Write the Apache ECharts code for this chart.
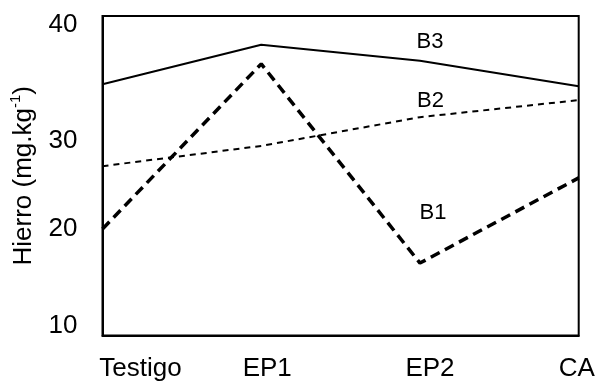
<!DOCTYPE html>
<html>
<head>
<meta charset="utf-8">
<script src="https://cdn.jsdelivr.net/npm/echarts@6/dist/echarts.min.js"></script>
<style>
  html, body { margin: 0; padding: 0; background: #fff; }
  #chart { width: 603px; height: 383px; }
</style>
</head>
<body>
<div id="chart"></div>
<script>
// Treatments on the x axis
const categories = ['Testigo', 'EP1', 'EP2', 'CA'];
// Iron content (mg.kg-1) per treatment
const b1 = [20.0, 35.5, 16.8, 24.8];
const b2 = [25.9, 27.8, 30.5, 32.1];
const b3 = [33.6, 37.3, 35.8, 33.4];
// Y-axis ticks
const yTicks = [10, 20, 30, 40];

// per-label nudges (px) for the category and value labels
const xShift = { 'Testigo': 38, 'EP1': 6, 'EP2': 10, 'CA': -2 };
const yShift = { 10: -10, 20: 0, 30: 18, 40: 9 };

const font = 'Liberation Sans, Arial, sans-serif';

const xRich = {};
categories.forEach((c, i) => {
  const d = xShift[c];
  xRich['c' + i] = {
    fontSize: 26, fontFamily: font, color: '#000',
    padding: d >= 0 ? [0, 0, 0, 2 * d] : [0, -2 * d, 0, 0]
  };
});
const yRich = {};
yTicks.forEach(v => {
  const d = yShift[v];
  yRich['v' + v] = {
    fontSize: 26, fontFamily: font, color: '#000',
    padding: d >= 0 ? [2 * d, 0, 0, 0] : [0, 0, -2 * d, 0]
  };
});

// label the EP2 point of each series with its name
function withLabel(values, offset) {
  return values.map((v, i) => i === 2
    ? { value: v, label: { show: true, position: 'inside', offset: offset, formatter: '{a}',
        fontSize: 22, fontFamily: font, color: '#000' } }
    : v);
}

const chart = echarts.init(document.getElementById('chart'));
chart.setOption({
  animation: false,
  backgroundColor: '#fff',
  grid: {
    left: 102.5, right: 24.3, top: 16, bottom: 47.5,
    containLabel: false,
    outerBoundsMode: 'none',
    show: true, borderColor: '#000', borderWidth: 2
  },
  xAxis: {
    type: 'category',
    data: categories,
    boundaryGap: false,
    axisLine: { lineStyle: { color: '#000', width: 2 } },
    axisTick: { show: false },
    axisLabel: {
      margin: 20,
      interval: 0,
      formatter: (val, idx) => '{c' + idx + '|' + val + '}',
      rich: xRich
    }
  },
  yAxis: {
    type: 'value',
    min: 10, max: 40, interval: 10,
    splitLine: { show: false },
    axisLine: { show: true, lineStyle: { color: '#000', width: 2 } },
    axisTick: { show: false },
    axisLabel: {
      margin: 25,
      formatter: v => '{v' + v + '|' + v + '}',
      rich: yRich
    },
    name: '{a|Hierro (mg.kg}{s|-1}{a|)}',
    nameLocation: 'middle',
    nameGap: 63,
    nameRotate: 90,
    nameTextStyle: {
      rich: {
        a: { fontSize: 26, fontFamily: font, color: '#000' },
        s: { fontSize: 15, fontFamily: font, color: '#000', padding: [0, 0, 16, 0] }
      }
    }
  },
  series: [
    {
      name: 'B3', type: 'line', data: withLabel(b3, [10, -18.5]),
      symbol: 'circle', symbolSize: 0, showSymbol: true,
      lineStyle: { color: '#000', width: 2, type: 'solid' },
      itemStyle: { color: '#000' }
    },
    {
      name: 'B2', type: 'line', data: withLabel(b2, [10.5, -16.5]),
      symbol: 'circle', symbolSize: 0, showSymbol: true,
      lineStyle: { color: '#000', width: 2, type: [6, 5] },
      itemStyle: { color: '#000' }
    },
    {
      name: 'B1', type: 'line', data: withLabel(b1, [13, -50]),
      symbol: 'circle', symbolSize: 0, showSymbol: true,
      lineStyle: { color: '#000', width: 3.5, type: [10, 6] },
      itemStyle: { color: '#000' }
    }
  ]
});
</script>
</body>
</html>
